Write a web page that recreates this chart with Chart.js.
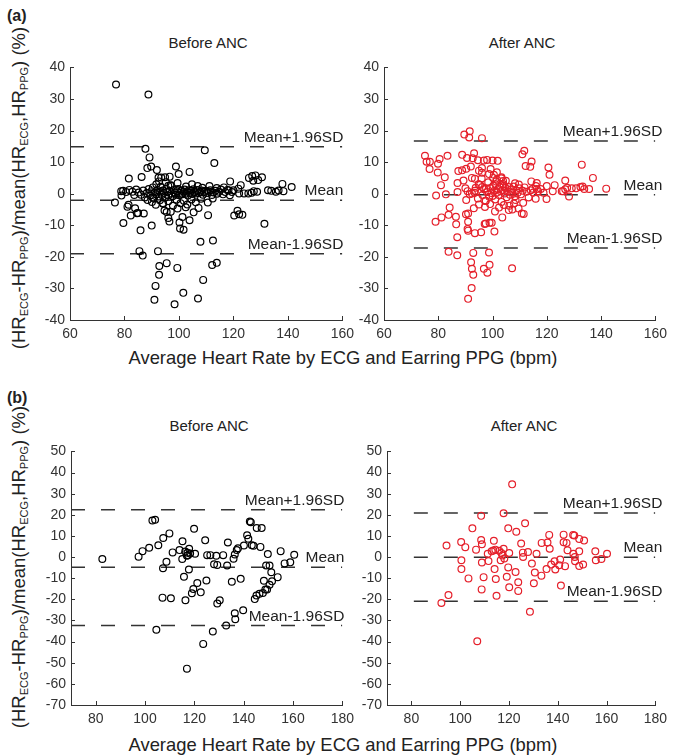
<!DOCTYPE html>
<html><head><meta charset="utf-8">
<script src="https://cdn.jsdelivr.net/npm/chart.js@4/dist/chart.umd.min.js"></script>
<style>
body{margin:0;background:#fff;}
#fig{position:relative;width:673px;height:755px;overflow:hidden;font-family:'Liberation Sans',Arial,Helvetica,sans-serif;color:#222;}
.pan{position:absolute;}
.txt{position:absolute;white-space:nowrap;line-height:1;}
.ctr{transform:translateX(-50%);}
.ytitle{position:absolute;white-space:nowrap;line-height:1;font-size:18.5px;transform:translate(-50%,-50%) rotate(-90deg);}
.ytitle span{font-size:11px;vertical-align:-3px;}
</style></head><body>
<div id="fig">
  <div class="txt" style="left:7px;top:8px;font-weight:bold;font-size:16px;">(a)</div>
  <div class="txt" style="left:7px;top:390px;font-weight:bold;font-size:16px;">(b)</div>
  <div class="txt ctr" style="left:208px;top:35px;font-size:15px;">Before ANC</div>
  <div class="txt ctr" style="left:522px;top:35px;font-size:15px;">After ANC</div>
  <div class="txt ctr" style="left:209px;top:418px;font-size:15px;">Before ANC</div>
  <div class="txt ctr" style="left:524px;top:418px;font-size:15px;">After ANC</div>
  <div class="txt ctr" style="left:343px;top:349px;font-size:18.4px;">Average Heart Rate by ECG and Earring PPG (bpm)</div>
  <div class="txt ctr" style="left:343px;top:736px;font-size:18.4px;">Average Heart Rate by ECG and Earring PPG (bpm)</div>
  <div class="ytitle" style="left:20px;top:188px;">(HR<span>ECG</span>-HR<span>PPG</span>)/mean(HR<span>ECG</span>,HR<span>PPG</span>) (%)</div>
  <div class="ytitle" style="left:20px;top:567px;">(HR<span>ECG</span>-HR<span>PPG</span>)/mean(HR<span>ECG</span>,HR<span>PPG</span>) (%)</div>
  <div class="pan" style="left:20px;top:54px;"><canvas id="cA1" width="340" height="290"></canvas></div>
  <div class="pan" style="left:350px;top:54px;"><canvas id="cA2" width="323" height="290"></canvas></div>
  <div class="pan" style="left:20px;top:438px;"><canvas id="cB1" width="340" height="292"></canvas></div>
  <div class="pan" style="left:350px;top:438px;"><canvas id="cB2" width="323" height="292"></canvas></div>
</div>
<script>
// ---------- data ----------
const xTicksA = [60, 80, 100, 120, 140, 160];
const yTicksA = [-40, -30, -20, -10, 0, 10, 20, 30, 40];
const xTicksB = [80, 100, 120, 140, 160, 180];
const yTicksB = [-70, -60, -50, -40, -30, -20, -10, 0, 10, 20, 30, 40, 50];
const xRangeA = [60, 160];
const yRangeA = [-40, 40];
const xRangeB = [70, 180];
const yRangeB = [-70, 50];
const limitLabels = ['Mean+1.96SD', 'Mean', 'Mean-1.96SD'];

// [upper, mean, lower]
const limitsBeforeA = [14.9, -2.1, -19.0];
const limitsAfterA = [16.7, -0.3, -17.2];
const limitsBeforeB = [22.4, -4.8, -32.4];
const limitsAfterB = [20.8, -0.1, -20.9];
// x-extent of the limit lines
const limitXBeforeA = [60, 160];
const limitXAfterA = [71, 160];
const limitXBeforeB = [70, 180];
const limitXAfterB = [81, 180];

const beforeA = [
[76.9,34.6],[88.8,31.4],[87.7,14.2],[109.5,13.75],[89.2,11.5],[113,9.7],[89.8,8.6],[88.4,8.1],[91.9,7.5],[98.9,8.6],
[103.9,6.9],[99.9,6.25],[81.6,4.8],[86.3,5.3],[92.5,5.1],[93.5,5.1],[94.9,5.2],[96.6,5.4],[91.7,3],[96.1,2.5],[97,2.7],
[78.8,0.8],[78.9,-0.6],[76.5,-2.8],[81.1,-4.1],[81.5,-3.5],[82.3,-6.9],[83.9,-4.6],[85,-6.1],[84.6,-6.2],[87.1,-6.25],
[79.6,-9.3],[85.9,-11.6],[90,-10.1],[94.1,-3],[94.7,-5.3],[95.5,-5.8],[96.1,-7.7],[97,-5.7],[99.5,-4.7],[96.5,-8.8],
[100.2,-9.1],[100.4,-11],[101.7,-11.4],[101.3,-7.4],[102.5,-4.3],[105.4,-5.9],[103.9,-8.4],[107.2,-4.5],[110.7,-6.8],
[110.6,-2.8],[107.9,-15.2],[112.5,-14.8],[131.4,-9.5],[85.5,-18.2],[86.7,-19.6],[92.3,-18.2],[92.8,-22.9],[92.7,-25.7],
[95.5,-22],[99.4,-23.5],[91.4,-29.2],[91,-33.6],[98.4,-35],[101.6,-31.4],[107,-33.2],[108.9,-27.3],[112.2,-22.6],[113.9,-21.9],
[125.7,5.0],[126.9,5.6],[128.1,5.8],[130.5,5.2],[127.3,4.1],[129.1,4.3],[122.7,2.7],[120,1.1],[122.1,0.1],[123.9,0.1],
[125.5,0.1],[126.7,0.3],[127.5,0.8],[128.7,0.6],[132.7,1.1],[133.9,0.9],[135.6,0.6],[136.6,1],[138,3.1],[138.4,0.8],
[141.4,2.1],[121.5,-5.4],[122.1,-6.5],[120.3,-6.9],[123.3,-6.7],[118.8,3.9],[118.2,1.1],[121.8,1.6],
[79.5,0.9],[80.6,0.5],[81.8,1.2],[82.9,0.6],[83.6,-0.4],[84.3,1.3],[85.2,0.4],[86.1,-0.3],[86.9,1],[87.5,-1.2],
[88.2,0.2],[88.9,1.5],[89.4,-0.6],[89.9,0.8],[90.4,2],[90.8,-1.5],[91.2,0.4],[91.6,-0.2],[92.1,1.2],[92.5,-0.9],
[92.9,0.6],[93.3,2.2],[93.7,-0.4],[94.1,1],[94.5,0.2],[94.9,-1.3],[95.3,1.6],[95.7,0.5],[96.1,-0.6],[96.5,0.9],
[96.9,2.6],[97.3,0.1],[97.7,-0.8],[98.1,1.2],[98.5,0.4],[98.9,-0.3],[99.3,0.8],[99.7,1.5],[100.1,-0.5],[100.5,0.3],
[100.9,1],[101.3,-0.2],[101.7,0.6],[102.1,1.3],[102.5,0],[102.9,0.7],[103.3,-0.6],[103.7,1.1],[104.1,0.3],[104.5,0.9],
[104.9,-0.1],[105.3,1.4],[105.7,0.5],[106.1,0.1],[106.5,0.8],[106.9,1.2],[107.3,0.2],[107.8,0.6],[108.3,1],[108.8,-0.3],
[109.3,0.5],[109.8,0.9],[110.3,0.2],[110.9,0.7],[111.5,1.1],[112.1,-0.4],[112.7,0.4],[113.4,0.9],[114,0],[114.7,0.6],
[115.4,1.3],[116.2,-0.2],[117,0.5],[117.8,1.2],[118.7,-0.5],[119.5,0.5],
[88.5,-2],[90.1,-2.6],[91.5,-3.5],[93,-2.1],[94.2,-3.2],[96.1,-2.4],[97.8,-3.8],[99.1,-1.9],[100.6,-3],[101.8,-2.2],
[103.1,-3.4],[104.6,-1.8],[106.2,-2.7],[108.1,-1.6],[112.4,-1.5],[99.5,3.4],[102.6,2.3],[104.8,3],[106.9,2.4],[108.6,1.9],
[95.2,3.6],[92.7,3.9],[111.2,2.4],[113.9,1.8],[116.5,2],[90.5,-1.2]
];

const afterA = [
[89.6,18.75],[91.6,19.8],[91.4,17.8],[96.1,17.6],
[75.1,12],[75.7,10.1],[76.9,10.1],[76.8,7.8],[79.8,6.7],[79.9,9.5],[80.5,11],[83.4,12],[82.4,5.2],[81,2.7],[79.2,-0.6],
[82.8,-0.2],[87.1,0.5],[87.1,3.4],[87.4,7.2],[88.8,12.3],[88.8,7.4],[90.3,7.9],[89.3,4.2],[90.6,11.3],[92,8.6],[92.7,11.25],
[93.2,12.8],[92.4,5],[93.5,4.7],[94.6,10.6],[95,7.3],[96.1,8.1],[96.8,10.5],[98,10.7],[99.3,7.8],[100,10.5],[101.9,10.4],
[96.1,6.6],[94.9,3],[96.2,2.1],[97.6,1.7],[90,1.7],[90.8,0.8],[90.3,-2],[91.6,-0.2],[92.4,0.1],[93.4,0.3],
[100.5,6],[101.6,4.5],[101.1,3],[103.3,5.2],[103.9,4],[104.1,2.5],
[111,12.5],[111.7,13.6],[114.4,10.2],[112.2,8.75],[113.9,8.5],[108.3,3.3],[109.7,2.9],[114.3,3.9],[116.3,3.4],[116,2.4],
[114.8,1.6],[116.3,1.5],[120,2.4],[120.6,8.3],[121,6],[122.9,2.7],[119.9,-1.7],[122.2,0.8],[126.8,4.2],[125.5,0.8],
[127.5,1.9],[128.2,-0.9],[129.2,1.7],[130.8,1.7],[132.4,2.1],[133.2,2.3],[133.8,1.5],[135.6,1.5],[132.9,9.2],[137,5],
[141.9,1.6],[126,0.8],[126.8,1.4],
[79,-8.9],[81.2,-7.5],[83.8,-6.7],[84.2,-4.4],[86.5,-7.3],[86.6,-9.7],[87,-13.8],[90.2,-6.5],[91,-6.3],[91,-8.9],
[90.8,-11.2],[91,-11.7],[93.5,-12.5],[95.8,-12.2],[97.1,-9.6],[97.5,-9.4],[98.9,-9.2],[99.7,-9.2],[100.7,-12],[103.6,-7.5],
[107.3,-5],[111.5,-6.4],[110.8,-6.3],[106.2,-3.8],[108.5,-2],
[83.8,-18.4],[87,-19.5],[92.9,-18.75],[92.1,-21.7],[92.4,-23.75],[92.9,-25.7],[92.3,-29.9],[91,-33.3],[96.8,-23.75],
[98.1,-25],[98.9,-22.5],[98.7,-18.6],[107.2,-23.6],
[93.5,0.9],[94.6,-1.5],[95.4,2.8],[96.3,-0.4],[96.9,1.4],[97.5,-2.3],[98,0.5],[98.4,3.6],[98.8,-1],[99.2,1.8],
[99.6,0.2],[100,-0.7],[100.3,2.5],[100.7,0.9],[101,-1.8],[101.3,3.9],[101.6,0.4],[102,1.5],[102.3,-0.4],[102.6,2.2],
[103,0.8],[103.3,-2.6],[103.7,1.2],[104,3],[104.4,0.1],[104.8,1.8],[105.2,-1.1],[105.6,0.7],[106,2.1],[106.4,-0.3],
[106.8,1.3],[107.3,0.4],[107.8,2.3],[108.3,-0.8],[108.8,1],[109.3,0.3],[109.9,1.7],[110.5,-0.2],[111.1,0.9],[111.8,2],
[112.5,0.6],[113.3,-1.2],[114.1,1.1],[115,0.4],[115.9,-1.6],[116.8,0.8],[117.8,1.5],[118.8,0.3],
[97.2,-4.2],[99.1,-3.3],[100.9,-5.6],[102.4,-4.4],[104.2,-3.6],[106,-5.2],[107.9,-3.1],[109.6,-4.7],[111.3,-2.9],
[96,4.8],[98.7,6.2],[100.2,5],[101.6,6.8],[103.2,4.9],[104.9,4.1],[97.4,-2.2],[95,-3.4],[93.1,-4.6],[93.8,1.9]
];

const beforeB = [
[82.7,-0.9],[97.4,0.2],[99,2.8],[101.7,4.4],[103,17.3],[104.1,17.6],[105.4,5.6],[107.4,9],[109.9,11.2],[108.7,-2.2],
[107.3,-5.3],[107.1,-19.2],[110.5,-19.5],[111.2,2.2],[114,3.3],[115.2,7.5],[115.1,-0.9],[116.3,2.6],[117.2,2],[117.4,0.9],
[117.9,3.9],[117,0.6],[118.3,1.7],[115.8,-9.3],[117.8,-5.9],[119.9,13.4],[120.3,1.6],[116.4,-20.4],[119,-17.1],[121.2,-12.3],
[122.6,-16.7],[119.6,-15.1],[124.4,7.9],[124.9,-11.1],[125.2,0.9],[126.5,0.9],[128,-3.4],[129.3,-3.7],[128.9,0.6],[131.7,0.9],
[133.6,6.9],[133.3,-4],[129.3,-22],[130.3,-20.4],[135.9,-0.8],[136.4,1.2],[137.2,3.3],[137.7,4.2],[135.2,-11.7],[138.8,-10.3],
[140.1,5.5],[141.4,10.3],[141.9,8.7],[142.5,16.8],[142.9,16.5],[143.3,5.6],[144,5.3],[145.3,13.7],[147.3,13.7],[146.8,4.8],
[149.1,-4],[150.5,-4],[151.2,-7.2],[149.8,1.4],[148.2,-11.2],[148.8,-15.4],[149.5,-15.4],[146.4,-17.4],[144.5,-19.9],
[145.2,-18.2],[147.8,-17],[150.5,-13.1],[151.5,-11.5],[153.8,-9.5],[155,2.8],[156.6,-3],[158.9,-2.5],[160.5,1.1],
[136.4,-26.6],[136.6,-29.4],[139.8,-25.2],[132.9,-32.4],[127.5,-35.2],[104.6,-34.4],[123.6,-41.1],[117,-52.8]
];

const afterB = [
[92.3,-21.7],[95.2,-18],[94.4,5.5],[100.4,7.1],[102.1,4.7],[100.5,-1.5],[100.5,-5.7],[103.4,-10.1],[105,13.6],[106.5,3.5],
[108.6,19.5],[108.6,8.1],[108.9,6.1],[108.9,-2.6],[109.6,-9.5],[108.8,-15.3],[111.6,-1.9],[111.3,1.6],[112.9,2.7],[113.8,7.7],
[113.6,3.1],[114.4,3.5],[114.1,-5.7],[114.6,-10.4],[114.9,-18.3],[116,3],[116.9,1.9],[117.3,0.8],[116.6,-1.5],[117.8,3.9],
[118.1,-0.7],[117.8,20.7],[119.7,13.6],[119.7,-4.9],[119.1,-9.3],[120.1,1.9],[120.1,-14.3],[121.3,34.4],[123,12],[122.7,-7.1],
[123.8,-11.9],[123.8,-16],[125,6.4],[125.7,2.1],[125.8,0],[126.6,16],[127.8,2.4],[129.4,-3.1],[130.2,-12.4],[130.6,-7.3],
[131.3,1.6],[128.6,-25.9],[133.3,-8.8],[133.4,6.7],[135.4,-5.7],[135.8,6.9],[136.5,10.5],[136.7,3.9],[137.3,-3.5],[138.7,-2],
[139,-5.9],[140.6,-3.9],[141,-1.2],[141.3,-13.5],[142.4,10.6],[142.4,7],[143.6,6.7],[144,3.2],[143,-4.3],[146.3,10.5],
[146.8,10.2],[146.4,1.6],[147,0],[147.1,-2],[148.8,-4.2],[148.8,8.6],[150.8,7.8],[148.8,2.7],[150.4,-3.5],[155.4,2.7],
[155.6,-1.5],[157.9,-0.9],[160.2,1.6],[107,-39.8]
];

// ---------- drawing ----------
Chart.defaults.font.family = "'Liberation Sans', Arial, Helvetica, sans-serif";
Chart.defaults.font.size = 14;
Chart.defaults.color = '#333';

const decor = {
  id: 'decor',
  afterDraw(chart, args, opts) {
    const ctx = chart.ctx, xs = chart.scales.x, ys = chart.scales.y, a = chart.chartArea;
    ctx.save();
    ctx.strokeStyle = '#333';
    ctx.lineWidth = 1;
    ctx.beginPath();
    xs.ticks.forEach(t => { const px = Math.round(xs.getPixelForValue(t.value)) + 0.5; ctx.moveTo(px, a.bottom); ctx.lineTo(px, a.bottom - 4); });
    ys.ticks.forEach(t => { const py = Math.round(ys.getPixelForValue(t.value)) + 0.5; ctx.moveTo(a.left, py); ctx.lineTo(a.left + 4, py); });
    ctx.stroke();
    ctx.fillStyle = '#222';
    ctx.font = "15.5px 'Liberation Sans', Arial, Helvetica, sans-serif";
    ctx.textAlign = 'right';
    ctx.textBaseline = 'alphabetic';
    opts.values.forEach((v, i) => {
      ctx.fillText(opts.texts[i], a.right + opts.dx, ys.getPixelForValue(v) - 5);
    });
    ctx.restore();
  }
};

function makePanel(id, pts, color, limits, limX, xr, yr, xt, yt, dims) {
  const datasets = [{
    data: pts.map(p => ({x: p[0], y: p[1]})),
    borderColor: color, backgroundColor: 'rgba(0,0,0,0)',
    pointRadius: 3.4, pointBorderWidth: 1.2, pointHoverRadius: 3.4, showLine: false
  }];
  limits.forEach(v => datasets.push({
    data: [{x: limX[0], y: v}, {x: limX[1], y: v}],
    showLine: true, borderColor: '#333', borderWidth: 1.5, borderDash: [14, 16],
    pointRadius: 0, fill: false
  }));
  const axis = (range, ticks, isX) => ({
    type: 'linear', min: range[0], max: range[1],
    afterBuildTicks: s => { s.ticks = ticks.map(v => ({value: v})); },
    afterFit: s => { if (isX) s.height = dims.xh; else s.width = dims.yw; },
    ticks: {padding: isX ? 6 : 5, color: '#333', autoSkip: false, maxRotation: 0},
    grid: {display: false, drawTicks: false},
    border: {display: true, color: '#333', width: 1}
  });
  return new Chart(document.getElementById(id), {
    type: 'scatter',
    data: {datasets},
    options: {
      responsive: false, animation: false, devicePixelRatio: 1,
      layout: {padding: {top: dims.pt, right: dims.pr, left: 0, bottom: 0}},
      scales: {x: axis(xr, xt, true), y: axis(yr, yt, false)},
      plugins: {legend: {display: false}, tooltip: {enabled: false},
        decor: {values: limits, texts: limitLabels, dx: dims.dx}}
    },
    plugins: [decor]
  });
}

makePanel('cA1', beforeA, '#000000', limitsBeforeA, limitXBeforeA, xRangeA, yRangeA, xTicksA, yTicksA, {yw: 50, xh: 24, pt: 10, pr: 14, dx: 1});
makePanel('cA2', afterA, '#e5202b', limitsAfterA, limitXAfterA, xRangeA, yRangeA, xTicksA, yTicksA, {yw: 34, xh: 24, pt: 10, pr: 12, dx: 7});
makePanel('cB1', beforeB, '#000000', limitsBeforeB, limitXBeforeB, xRangeB, yRangeB, xTicksB, yTicksB, {yw: 51, xh: 25, pt: 10, pr: 13, dx: 2});
makePanel('cB2', afterB, '#e5202b', limitsAfterB, limitXAfterB, xRangeB, yRangeB, xTicksB, yTicksB, {yw: 37, xh: 25, pt: 10, pr: 12, dx: 7});
</script>
</body></html>
